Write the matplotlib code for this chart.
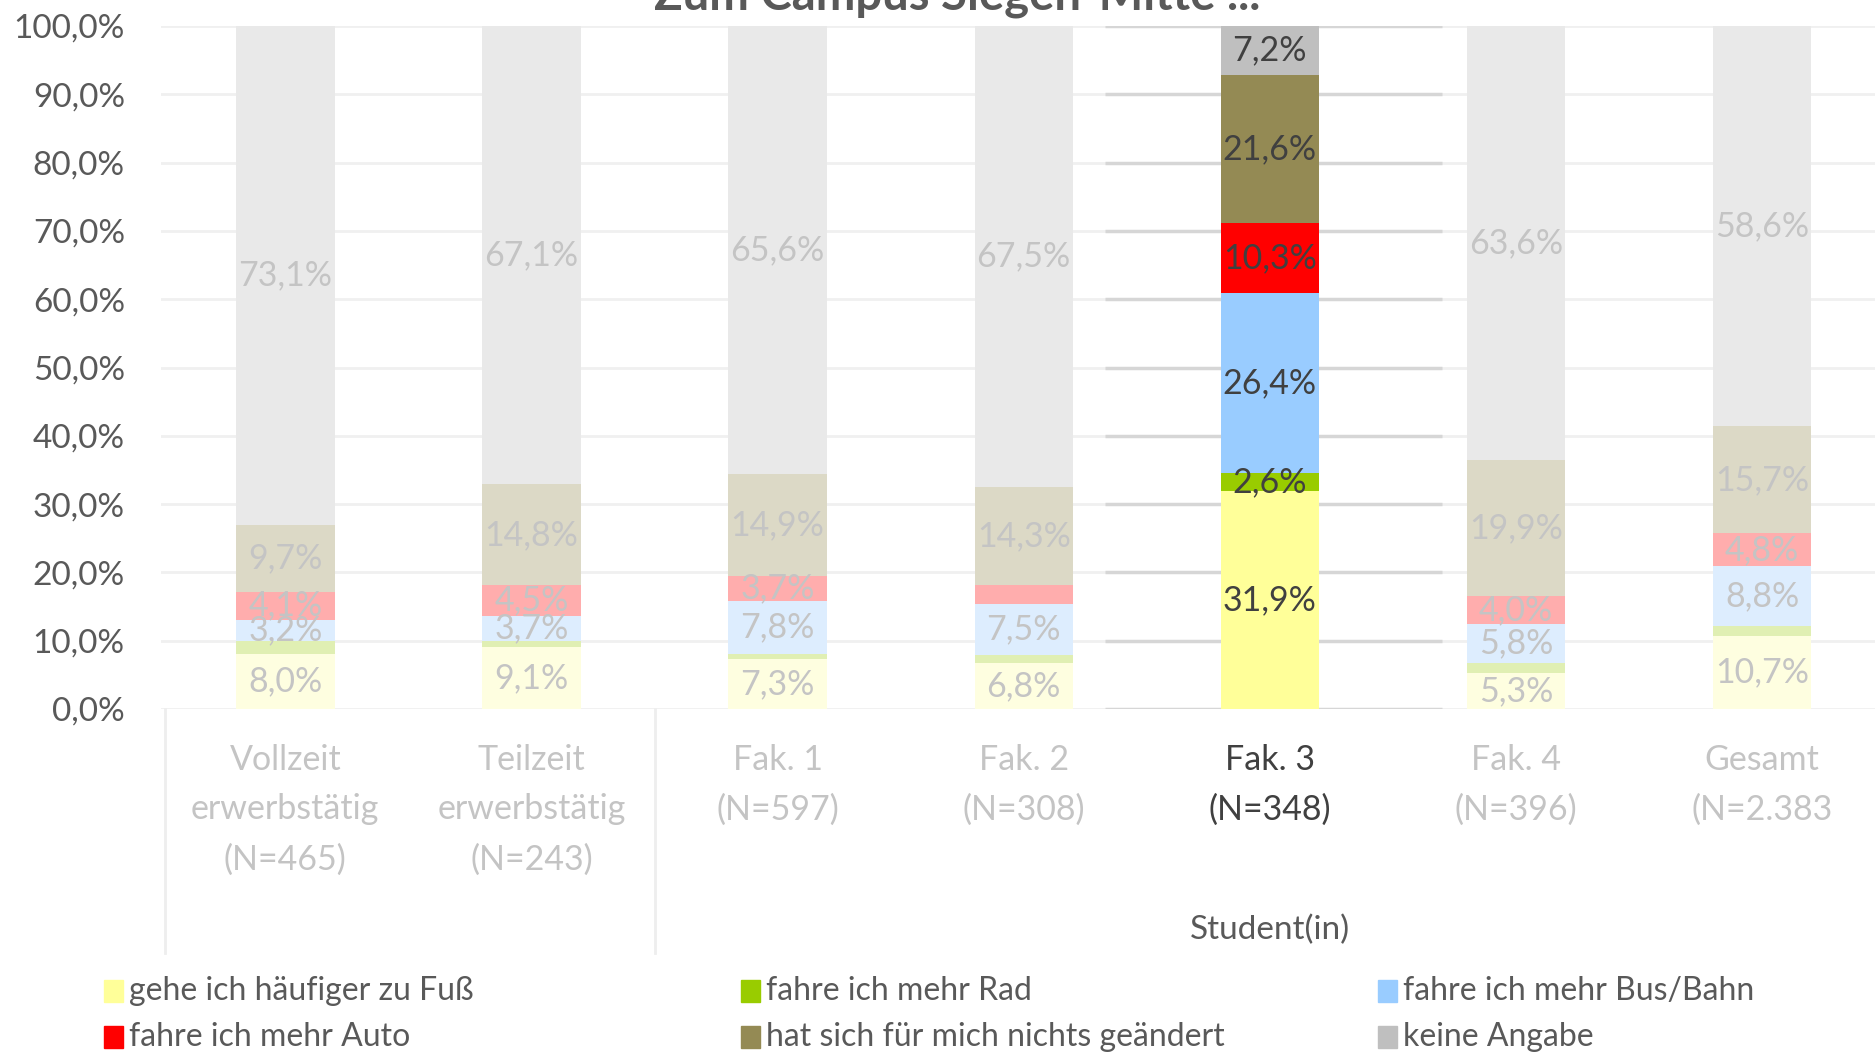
import numpy as np
import matplotlib.pyplot as plt
from matplotlib.patches import Rectangle
import matplotlib.transforms as mtransforms

plt.rcParams['font.family'] = ['Lato', 'DejaVu Sans']

# Data (percent per group)
groups = ['Vollzeit\nerwerbstätig\n(N=465)', 'Teilzeit\nerwerbstätig\n(N=243)',
          'Fak. 1\n(N=597)', 'Fak. 2\n(N=308)', 'Fak. 3\n(N=348)',
          'Fak. 4\n(N=396)', 'Gesamt\n(N=2.383']
series = ['gehe ich häufiger zu Fuß', 'fahre ich mehr Rad', 'fahre ich mehr Bus/Bahn',
          'fahre ich mehr Auto', 'hat sich für mich nichts geändert', 'keine Angabe']
fuss = [8.0, 9.1, 7.3, 6.8, 31.9, 5.3, 10.7]
rad = [1.9, 0.8, 0.7, 1.1, 2.6, 1.4, 1.4]
bus = [3.2, 3.7, 7.8, 7.5, 26.4, 5.8, 8.8]
auto = [4.1, 4.5, 3.7, 2.8, 10.3, 4.0, 4.8]
nichts = [9.7, 14.8, 14.9, 14.3, 21.6, 19.9, 15.7]
keine = [73.1, 67.1, 65.6, 67.5, 7.2, 63.6, 58.6]
highlight = 4  # Fak. 3

colors = ['#ffff99', '#99cc00', '#99ccff', '#ff0000', '#948a54', '#bfbfbf']
faded = ['#fefee0', '#e0efb3', '#ddedfe', '#ffadad', '#dcd9c6', '#e9e9e9']
text_dark = '#404040'
text_faded = '#c4c4c4'
axis_grey = '#595959'

fig = plt.figure(figsize=(18.75, 10.53), dpi=100)
# plot area runs a bit past the right edge, like in the original
ax = fig.add_axes([161 / 1875, 1 - 709 / 1053, 1723 / 1875, 683 / 1053])

data = np.array([fuss, rad, bus, auto, nichts, keine])
x = np.arange(len(groups))

# gridlines: faded everywhere, darker around the highlighted column
for yv in range(0, 101, 10):
    ax.axhline(yv, color='#f0f0f0', lw=2, zorder=0)
    ax.hlines(yv, highlight - 0.67, highlight + 0.7, color='#d6d6d6', lw=2.5, zorder=0.5)

bottom = np.zeros(len(groups))
for i, vals in enumerate(data):
    cols = [colors[i] if j == highlight else faded[i] for j in range(len(groups))]
    ax.bar(x, vals, 0.4, bottom=bottom, color=cols, zorder=2)
    for j, v in enumerate(vals):
        if v >= 3.0 or j == highlight:
            lab = f'{v:.1f}%'.replace('.', ',')
            ax.text(x[j], bottom[j] + v / 2, lab, ha='center', va='center', fontsize=24.5,
                    color=text_dark if j == highlight else text_faded, zorder=3)
    bottom += vals

ax.set_xlim(-0.505, 6.495)
ax.set_ylim(0, 100)
ax.set_yticks(range(0, 101, 10))
ax.set_yticklabels([f'{v:.1f}%'.replace('.', ',') for v in range(0, 101, 10)])
ax.tick_params(axis='y', length=0, pad=26, labelsize=24, labelcolor=axis_grey)
ax.set_xticks(x)
ax.set_xticklabels(groups, linespacing=1.68)
ax.tick_params(axis='x', length=0, pad=25, labelsize=24.5)
for j, t in enumerate(ax.get_xticklabels()):
    t.set_color(text_dark if j == highlight else text_faded)
for s in ax.spines.values():
    s.set_visible(False)

# group separators of the category axis
trans = mtransforms.blended_transform_factory(ax.transData, ax.transAxes)
for xs in [-0.49, 1.5]:
    ax.plot([xs, xs], [0, -0.357], color='#eeeeee', lw=2, transform=trans, clip_on=False)
ax.text(4, -0.324, 'Student(in)', transform=trans, ha='center', va='center',
        fontsize=24, color=axis_grey)

# title (cut off at the top in the original)
fig.text(957 / 1875, 1 - 10 / 1053, 'Zum Campus Siegen-Mitte ...', ha='center',
         va='baseline', fontsize=34, fontweight='bold', color=axis_grey)

# legend, row by row
leg_x = [104, 741, 1378]
leg_y = [991, 1037]
for i, name in enumerate(series):
    lx = leg_x[i % 3] / 1875
    ly = 1 - leg_y[i // 3] / 1053
    fig.add_artist(Rectangle((lx, ly - 11 / 1053), 19 / 1875, 22 / 1053,
                             color=colors[i], transform=fig.transFigure))
    fig.text(lx + 25 / 1875, ly, name, ha='left', va='center', fontsize=23, color=axis_grey)

plt.savefig('out.png', dpi=100)
